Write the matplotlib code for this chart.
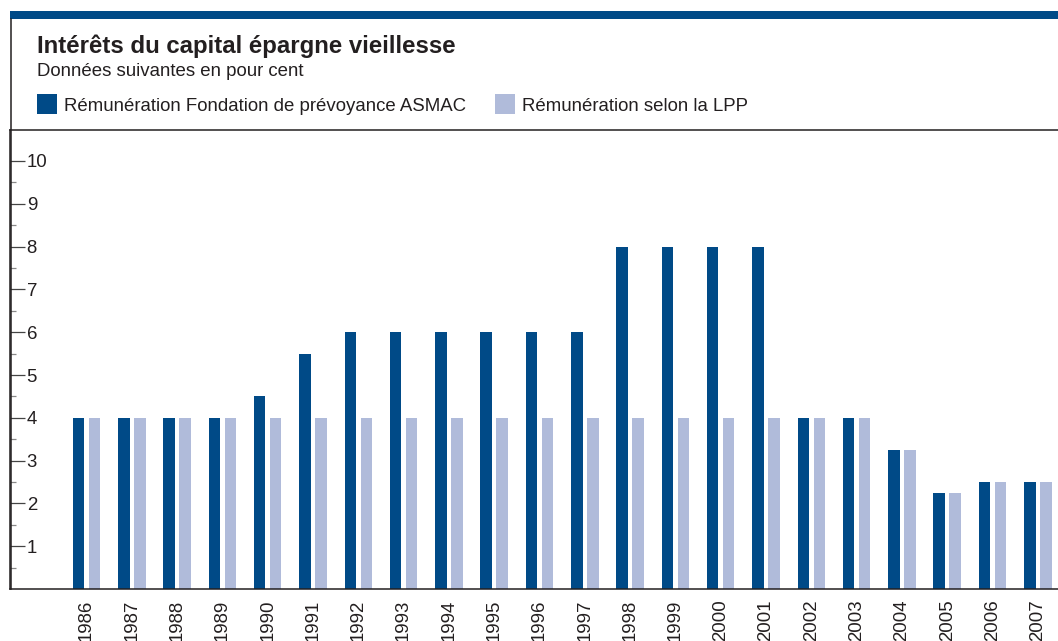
import matplotlib
matplotlib.use('Agg')
import matplotlib.pyplot as plt
from matplotlib.lines import Line2D
from matplotlib.patches import Rectangle
from matplotlib.ticker import FixedLocator
import numpy as np

plt.rcParams['font.family'] = ['Liberation Sans', 'DejaVu Sans']

# Data
years = [str(y) for y in range(1986, 2008)]
asmac = [4, 4, 4, 4, 4.5, 5.5, 6, 6, 6, 6, 6, 6, 8, 8, 8, 8, 4, 4, 3.25, 2.25, 2.5, 2.5]
lpp = [4, 4, 4, 4, 4, 4, 4, 4, 4, 4, 4, 4, 4, 4, 4, 4, 4, 4, 3.25, 2.25, 2.5, 2.5]
yticks = list(range(1, 11))

dark = '#004a87'
light = '#b0bbda'
txt = '#231f20'

W, H = 1058, 641
fig = plt.figure(figsize=(W / 100, H / 100), dpi=100)

def fx(px):
    return px / W

def fy(py):
    return 1 - py / H

# frame decoration
fig.add_artist(Rectangle((fx(10), fy(19)), 1 - fx(10), fy(11) - fy(19),
                         transform=fig.transFigure, color=dark, lw=0))
fig.add_artist(Line2D([fx(10.5), fx(10.5)], [fy(19), fy(589)],
                      transform=fig.transFigure, color=txt, lw=1.1))

# titles and legend
fig.text(fx(37), fy(53), 'Intérêts du capital épargne vieillesse', fontsize=17.3,
         fontweight='bold', color=txt, va='baseline')
fig.text(fx(37), fy(76), 'Données suivantes en pour cent', fontsize=13.4,
         color=txt, va='baseline')
for x0, col, lab in [(37, dark, 'Rémunération Fondation de prévoyance ASMAC'),
                     (495, light, 'Rémunération selon la LPP')]:
    fig.add_artist(Rectangle((fx(x0), fy(114)), fx(20), fy(94) - fy(114),
                             transform=fig.transFigure, color=col, lw=0))
    fig.text(fx(x0 + 27), fy(111), lab, fontsize=13.4, color=txt, va='baseline')

# axes
ax = fig.add_axes([fx(10), fy(589), 1 - fx(10), fy(130) - fy(589)])
x = np.arange(len(years))
step = 45.3
bw = 11.5 / step
off = 8 / step
ax.bar(x - off, asmac, width=bw, color=dark, lw=0)
ax.bar(x + off, lpp, width=bw, color=light, lw=0)

ax.set_xlim(-76.5 / step, (W - 86.5) / step)
ax.set_ylim(0, (589 - 130) / 42.8)

ax.spines['right'].set_visible(False)
for s in ['left', 'top', 'bottom']:
    ax.spines[s].set_color(txt)
    ax.spines[s].set_linewidth(1.1)

ax.set_yticks(yticks)
ax.set_yticklabels([str(i) for i in yticks])
ax.yaxis.set_minor_locator(FixedLocator([t - 0.5 for t in yticks]))
ax.tick_params(axis='y', which='major', direction='in', length=10.5, width=0.9,
               color='#444444', labelsize=13.4, labelcolor=txt, pad=-12)
ax.tick_params(axis='y', which='minor', direction='in', length=4.5, width=0.9,
               color='#888888')
for lab in ax.get_yticklabels():
    lab.set_horizontalalignment('left')

ax.set_xticks(x)
ax.set_xticklabels(years, rotation=90, va='top', ha='center')
ax.tick_params(axis='x', length=0, labelsize=13.4, labelcolor=txt, pad=7.5)

fig.savefig('out.png', dpi=100)
